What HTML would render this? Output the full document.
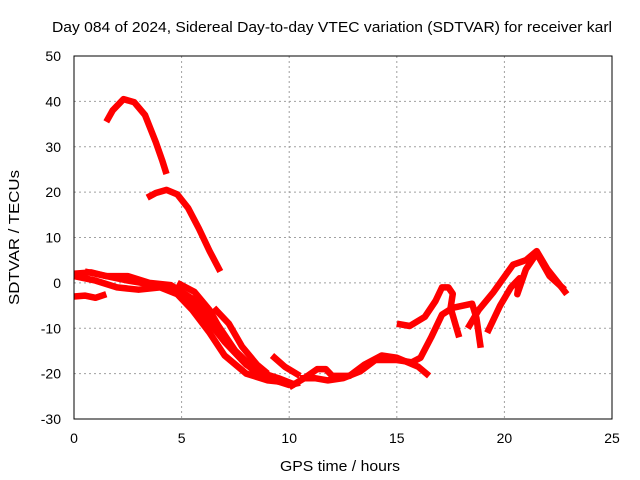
<!DOCTYPE html>
<html><head><meta charset="utf-8"><style>
body{margin:0;background:#fff;}
svg{display:block;font-family:"Liberation Sans",sans-serif;}
</style></head><body>
<svg id="chart" width="640" height="480">
<text x="52" y="32" font-size="15" textLength="560" lengthAdjust="spacingAndGlyphs">Day 084 of 2024, Sidereal Day-to-day VTEC variation (SDTVAR) for receiver karl</text>
<text x="280" y="471" font-size="15" textLength="120" lengthAdjust="spacingAndGlyphs">GPS time / hours</text>
<text transform="translate(19,305) rotate(-90)" font-size="15" textLength="135" lengthAdjust="spacingAndGlyphs">SDTVAR / TECUs</text>
<g id="grid"></g><g id="ticks"></g><g id="series"></g>
<rect x="74" y="56" width="538" height="363" fill="none" stroke="#000" stroke-width="1"/>
</svg>
<script>
const xTicks=[0,5,10,15,20,25];
const yTicks=[-30,-20,-10,0,10,20,30,40,50];
const track1=[[1.5,35.5],[1.8,38],[2.3,40.5],[2.8,39.8],[3.3,37],[3.8,31],[4.1,27],[4.3,24]];
const track2=[[3.4,18.8],[3.8,19.8],[4.3,20.5],[4.8,19.5],[5.3,16.5],[5.8,12],[6.3,7],[6.8,2.5]];
const track3=[[0,-3],[0.5,-2.8],[1.0,-3.3],[1.5,-2.5]];
const track4=[[0,2],[0.8,2.3],[1.5,1.5],[2.5,0.5],[3.5,-0.3],[4.5,-1],[5.2,-3],[6,-7],[7,-13],[8,-18],[9,-21],[10,-22.5],[10.5,-22]];
const track5=[[0,1.5],[1,0.5],[2,-1],[3,-1.5],[4,-1],[4.8,-2.5],[5.5,-6],[6.3,-11],[7,-16],[8,-20],[9,-21.5],[10,-22]];
const track6=[[0.5,2.5],[1.5,1.5],[2.5,1.5],[3.5,0],[4.5,-0.5],[5.5,-3.5],[6.5,-8],[7.5,-15],[8.5,-19.5],[9.5,-21],[10.3,-22.5]];
const track7=[[4.8,0],[5.6,-2],[6.3,-6],[7.0,-12],[7.8,-17],[8.5,-20]];
const track8=[[6.5,-5.5],[7.2,-9],[7.8,-14],[8.5,-18],[9,-20]];
const track9=[[9.2,-16],[9.8,-18.5],[10.5,-20.5]];
const track10=[[10,-23],[10.7,-21],[11.3,-19],[11.7,-19],[12,-20.5],[12.8,-20.5],[13.5,-18],[14.3,-16],[15,-16.5],[15.5,-17.5],[16,-18.5],[16.5,-20.5]];
const track11=[[10.5,-21],[11.2,-21],[11.8,-21.5],[12.5,-21],[13.3,-19.5],[14,-17],[15,-17],[15.7,-17.5],[16.1,-16.5],[16.6,-12],[17.1,-7],[17.6,-5.5],[18.5,-4.6],[18.7,-7.7],[18.9,-14.3]];
const track12=[[15,-9],[15.6,-9.5],[16.3,-7.5],[16.8,-4],[17.1,-1],[17.4,-1],[17.6,-2.4],[17.5,-5.5],[17.9,-12]];
const track13=[[18.3,-10],[18.8,-6],[19.5,-2],[20.4,4],[21.0,5],[21.5,7],[22.0,3],[22.5,0],[22.9,-2.5]];
const track14=[[19.2,-11],[19.8,-5],[20.3,-1],[20.7,1],[20.6,-2.5],[21.0,3],[21.5,6.5],[22.1,1.5],[22.8,-1.5]];
const tracks=[track1,track2,track3,track4,track5,track6,track7,track8,track9,track10,track11,track12,track13,track14];
const X0=74,X1=612,Y0=419,Y1=56,XMIN=0,XMAX=25,YMIN=-30,YMAX=50;
function sx(h){return X0+(h-XMIN)/(XMAX-XMIN)*(X1-X0);}
function sy(v){return Y0-(v-YMIN)/(YMAX-YMIN)*(Y0-Y1);}
const NS="http://www.w3.org/2000/svg";
const grid=document.getElementById('grid'),ticks=document.getElementById('ticks'),ser=document.getElementById('series');
function mk(tag,attrs,parent){const e=document.createElementNS(NS,tag);for(const k in attrs)e.setAttribute(k,attrs[k]);parent.appendChild(e);return e;}
xTicks.forEach(t=>{
 const x=sx(t);
 if(t>XMIN&&t<XMAX){const g=mk('line',{x1:x,x2:x,y1:Y1,y2:Y0,stroke:'#a0a0a0','stroke-dasharray':'2,3'},grid);
 
 }
 const l=mk('text',{x:x,y:Y0+24,'font-size':14,'text-anchor':'middle'},ticks);l.textContent=t;
 
 
});
yTicks.forEach(t=>{
 const y=sy(t);
 if(t>YMIN&&t<YMAX){const g=mk('line',{x1:X0,x2:X1,y1:y,y2:y,stroke:'#a0a0a0','stroke-dasharray':'2,3'},grid);
 
 }
 const l=mk('text',{x:X0-13,y:y+5,'font-size':14,'text-anchor':'end'},ticks);l.textContent=t;
 
 
});
tracks.forEach((tr,i)=>{
 const p=mk('polyline',{points:tr.map(d=>sx(d[0]).toFixed(1)+','+sy(d[1]).toFixed(1)).join(' '),fill:'none',stroke:'#ff0000','stroke-width':6.5,'stroke-linejoin':'round','stroke-linecap':'butt'},ser);
 
 
});
</script>
</body></html>
